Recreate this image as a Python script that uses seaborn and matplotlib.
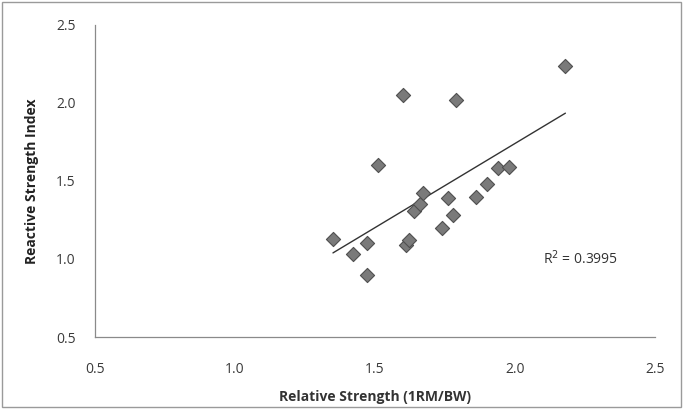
import matplotlib
matplotlib.use("Agg")
import matplotlib.pyplot as plt
import seaborn as sns
import pandas as pd
import numpy as np

# Datos
rel_strength = [1.35, 1.42, 1.47, 1.47, 1.51, 1.60, 1.61, 1.62, 1.64, 1.66,
                1.67, 1.74, 1.76, 1.78, 1.79, 1.86, 1.90, 1.94, 1.98, 2.18]
rsi = [1.13, 1.03, 1.10, 0.90, 1.60, 2.05, 1.09, 1.12, 1.31, 1.35,
       1.42, 1.20, 1.39, 1.28, 2.02, 1.40, 1.48, 1.58, 1.59, 2.24]
x_ticks = [0.5, 1.0, 1.5, 2.0, 2.5]
y_ticks = [0.5, 1.0, 1.5, 2.0, 2.5]
r2_label = "R$^2$ = 0.3995"

df = pd.DataFrame({"rel": rel_strength, "rsi": rsi})

sns.set_style("white")
plt.rcParams['font.family'] = ['Open Sans', 'DejaVu Sans']

fig = plt.figure(figsize=(6.83, 4.09), dpi=100)
ax = fig.add_axes([0.139, 0.176, 0.82, 0.763])

sns.regplot(data=df, x="rel", y="rsi", ax=ax, ci=None, marker="D",
            scatter_kws={"s": 52, "color": "#7a7a7a", "edgecolor": "#4f4f4f",
                         "linewidths": 0.8, "alpha": 1, "zorder": 3},
            line_kws={"color": "#333333", "linewidth": 1.0, "zorder": 2})

ax.set_xlim(0.5, 2.5)
ax.set_ylim(0.5, 2.5)
ax.set_xticks(x_ticks)
ax.set_yticks(y_ticks)
ax.set_xticklabels([f"{v:.1f}" for v in x_ticks])
ax.set_yticklabels([f"{v:.1f}" for v in y_ticks])
ax.tick_params(axis="both", direction="out", length=4, width=0.8,
               color="#8a8a8a", labelsize=10, labelcolor="#3a3a3a", pad=14)
ax.tick_params(axis="y", pad=10)

for s in ["top", "right"]:
    ax.spines[s].set_visible(False)
for s in ["left", "bottom"]:
    ax.spines[s].set_color("#8a8a8a")
    ax.spines[s].set_linewidth(0.9)

ax.set_xlabel("Relative Strength (1RM/BW)", fontsize=10, fontweight="bold",
              color="#333333", labelpad=9)
ax.set_ylabel("Reactive Strength Index", fontsize=10, fontweight="bold",
              color="#222222", labelpad=12)

ax.text(2.10, 1.0, r2_label, fontsize=10, color="#333333", va="center")

# borde exterior
fig.patches.append(plt.Rectangle((0.003, 0.004), 0.994, 0.992, transform=fig.transFigure,
                                 fill=False, edgecolor="#9a9a9a", linewidth=1))

fig.savefig("out.png", dpi=100)
